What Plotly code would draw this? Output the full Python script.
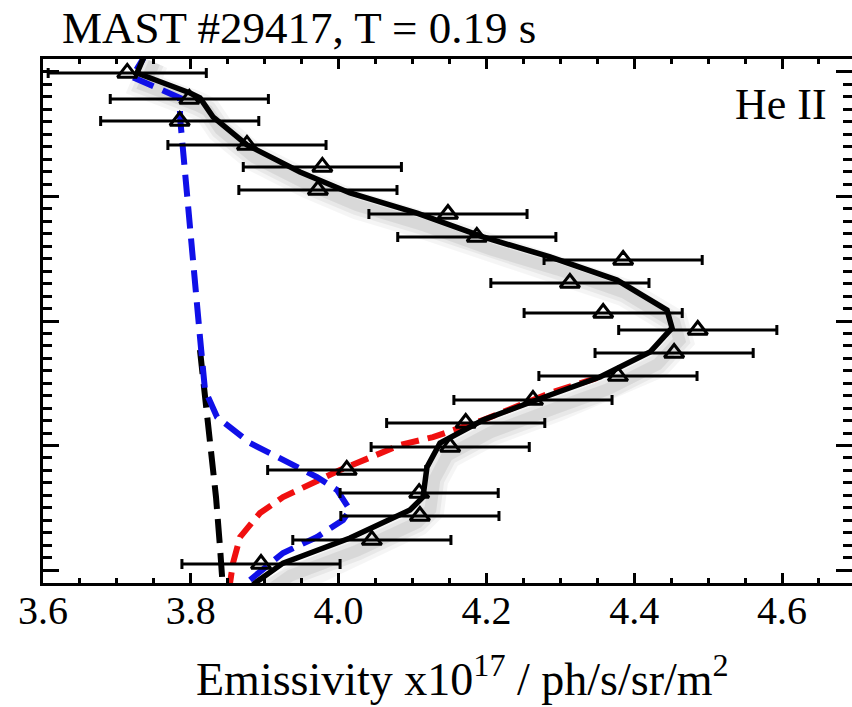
import plotly.graph_objects as go

# ---- data (x: emissivity x1e17 ph/s/sr/m^2, y: chord position, arbitrary units) ----
obs_x = [3.714, 3.798, 3.785, 3.876, 3.978, 3.972, 4.148, 4.187, 4.385, 4.313, 4.358,
         4.486, 4.454, 4.378, 4.263, 4.172, 4.151, 4.011, 4.109, 4.110, 4.045, 3.895]
obs_y = [3.992, 3.783, 3.606, 3.414, 3.237, 3.052, 2.859, 2.675, 2.490, 2.305, 2.064,
         1.928, 1.743, 1.558, 1.365, 1.181, 0.988, 0.803, 0.618, 0.434, 0.241, 0.048]
obs_err = [0.107] * 22

fit_x = [3.7407, 3.7272, 3.7989, 3.8124, 3.8300, 3.8760, 3.9478, 4.0154, 4.1061, 4.1954,
         4.2861, 4.3767, 4.4444, 4.4512, 4.4214, 4.3537, 4.2861, 4.1954, 4.1372, 4.1196,
         4.1142, 4.0966, 4.0154, 3.9248, 3.8869, 3.8774]
fit_y = [4.177, 3.992, 3.831, 3.791, 3.639, 3.414, 3.197, 3.028, 2.867, 2.675,
         2.514, 2.329, 2.088, 1.944, 1.751, 1.550, 1.406, 1.205, 1.020, 0.827,
         0.586, 0.482, 0.257, 0.056, -0.104, -0.161]

blue_x = [3.7393, 3.7353, 3.7204, 3.7854, 3.7854, 3.7881, 3.7949, 3.8030, 3.8124, 3.8192,
          3.8355, 3.8801, 3.9248, 3.9708, 3.9978, 4.0154, 4.0060, 3.9708, 3.9248, 3.8801, 3.8733]
blue_y = [4.177, 4.104, 3.960, 3.791, 3.639, 3.454, 3.052, 2.386, 1.871, 1.446,
          1.229, 1.020, 0.884, 0.747, 0.643, 0.482, 0.402, 0.265, 0.137, -0.080, -0.161]

red_x = [3.8517, 3.8530, 3.8571, 3.8666, 3.8936, 3.9248, 3.9708, 4.0019, 4.0831, 4.1277,
         4.1954, 4.2861, 4.3537]
red_y = [-0.161, -0.080, 0.056, 0.265, 0.458, 0.586, 0.723, 0.803, 1.004, 1.068,
         1.205, 1.422, 1.550]

kdash_x = [3.8124, 3.8192, 3.8273, 3.8341, 3.8395, 3.8422, 3.8436]
kdash_y = [1.767, 1.406, 1.044, 0.586, 0.185, -0.104, -0.161]

x_ticks = [3.6, 3.8, 4.0, 4.2, 4.4, 4.6]
x_ticklabels = ["3.6", "3.8", "4.0", "4.2", "4.4", "4.6"]

XR = [3.6, 4.6947]
YR = [-0.104, 4.104]
FONT = "Liberation Serif, Times New Roman, serif"

fig = go.Figure()

# soft shadow under the fitted line (offset down-right)
sdx, sdy = 0.010, -0.10
for w, a in [(28, 0.04), (20, 0.05), (12, 0.065)]:
    fig.add_trace(go.Scatter(x=[v + sdx for v in fit_x], y=[v + sdy for v in fit_y],
                             mode="lines", line=dict(color=f"rgba(0,0,0,{a})", width=w),
                             hoverinfo="skip", showlegend=False))

fig.add_trace(go.Scatter(x=kdash_x, y=kdash_y, mode="lines",
                         line=dict(color="black", width=6, dash="24px,10px"), showlegend=False))
fig.add_trace(go.Scatter(x=red_x, y=red_y, mode="lines",
                         line=dict(color="#f01010", width=6, dash="18px,9px"), showlegend=False))
fig.add_trace(go.Scatter(x=blue_x, y=blue_y, mode="lines",
                         line=dict(color="#1010e8", width=6, dash="22px,10px"), showlegend=False))
fig.add_trace(go.Scatter(x=fit_x, y=fit_y, mode="lines",
                         line=dict(color="black", width=5.5), showlegend=False))
fig.add_trace(go.Scatter(x=obs_x, y=obs_y, mode="markers",
                         marker=dict(symbol="triangle-up-open", size=17, color="black",
                                     line=dict(color="black", width=3)),
                         error_x=dict(type="data", array=obs_err, color="black",
                                      thickness=3, width=5),
                         showlegend=False))
# invisible trace for the right-hand tick axis
fig.add_trace(go.Scatter(x=[XR[0]], y=[YR[0]], yaxis="y2", mode="markers",
                         marker=dict(opacity=0), hoverinfo="skip", showlegend=False))

yaxis_common = dict(range=YR, showgrid=False, zeroline=False, showticklabels=False,
                    ticks="inside", ticklen=16, tickwidth=3, tickcolor="black",
                    tickmode="linear", tick0=0, dtick=1,
                    minor=dict(ticks="inside", ticklen=9, tickwidth=3, tickcolor="black",
                               tickmode="linear", tick0=0, dtick=0.1, showgrid=False))

fig.update_layout(
    width=852, height=707, autosize=False,
    margin=dict(l=43, r=0, t=59, b=124),
    plot_bgcolor="white", paper_bgcolor="white",
    font=dict(family=FONT, color="black"),
    title=dict(text="MAST #29417, T = 0.19 s", x=62 / 852, xanchor="left", xref="container",
               y=1 - 27 / 707, yanchor="middle", yref="container",
               font=dict(family=FONT, size=45, color="black")),
    xaxis=dict(range=XR, showgrid=False, zeroline=False, showline=True, linewidth=3,
               linecolor="black", mirror="ticks", ticks="inside", ticklen=10, tickwidth=3,
               tickcolor="black", tickvals=x_ticks, ticktext=x_ticklabels,
               ticklabelstandoff=-10,
               tickfont=dict(family=FONT, size=40, color="black"),
               minor=dict(ticks="inside", ticklen=5, tickwidth=3, tickcolor="black",
                          dtick=0.05, tick0=3.6, showgrid=False)),
    yaxis=dict(showline=True, linewidth=3, linecolor="black", **yaxis_common),
    yaxis2=dict(overlaying="y", side="right", anchor="x", showline=False, **yaxis_common),
    annotations=[
        dict(text="He II", xref="paper", yref="paper", x=(829 - 43) / 809,
             y=(583 - 104) / 524, xanchor="right", yanchor="middle", showarrow=False,
             font=dict(family=FONT, size=44, color="black")),
        dict(text="Emissivity x10<sup>17</sup> / ph/s/sr/m<sup>2</sup>", xref="paper",
             yref="paper", x=(462 - 43) / 809, y=-(676 - 583) / 524, xanchor="center",
             yanchor="middle", showarrow=False,
             font=dict(family=FONT, size=46, color="black")),
    ],
)

fig.write_html("out.html")
